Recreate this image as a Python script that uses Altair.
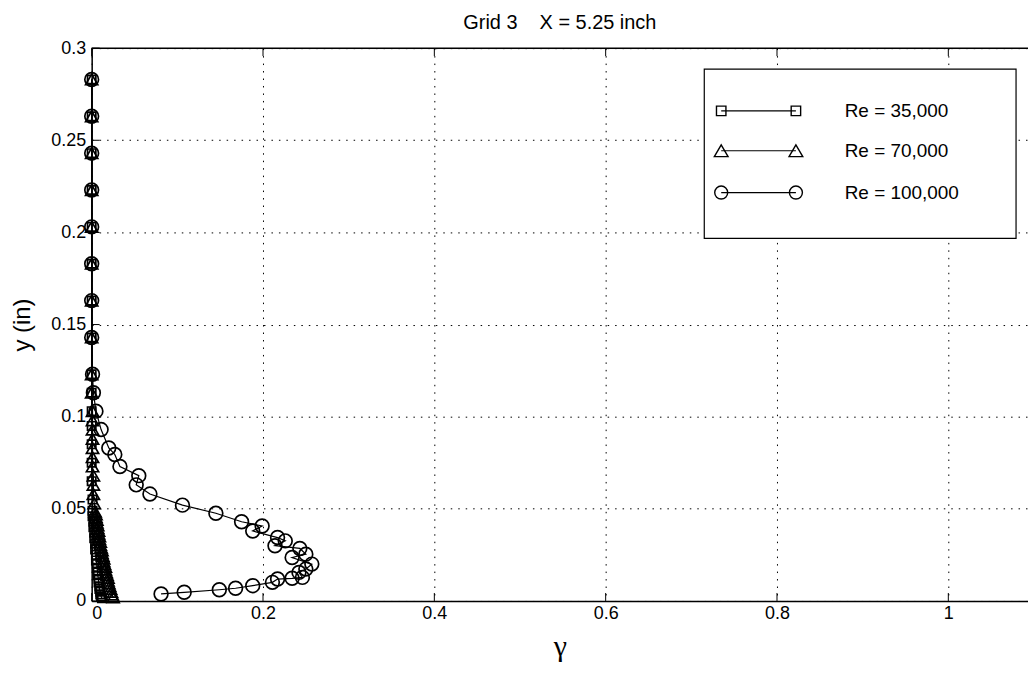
import altair as alt
import pandas as pd

# ---------------- data ----------------
series_names = ["Re = 35,000", "Re = 70,000", "Re = 100,000"]
series_shapes = ["square", "triangle-up", "circle"]
series_sizes = [70, 150, 190]

top_y = [0.283, 0.263, 0.243, 0.223, 0.203, 0.183, 0.163, 0.143, 0.123, 0.113, 0.103]

sq_gamma = [0.000, 0.000, 0.000, 0.000, 0.000, 0.000, 0.000, 0.000, 0.000, 0.000, 0.000,
            0.000, 0.000, 0.000, 0.000, 0.001, 0.001, 0.001, 0.002, 0.002, 0.003, 0.003,
            0.004, 0.004, 0.005, 0.005, 0.006, 0.006, 0.007, 0.007, 0.008, 0.008, 0.009,
            0.009, 0.010, 0.010, 0.011, 0.012]
sq_y = top_y + [0.095, 0.085, 0.075, 0.065, 0.055, 0.049, 0.046, 0.043, 0.040, 0.037,
                0.034, 0.031, 0.028, 0.025, 0.022, 0.020, 0.018, 0.016, 0.014, 0.012,
                0.010, 0.008, 0.0065, 0.005, 0.0035, 0.0025, 0.0015]

tri_gamma = [0.000, 0.000, 0.000, 0.000, 0.000, 0.000, 0.000, 0.000, 0.000, 0.000, 0.001,
             0.001, 0.001, 0.001, 0.001, 0.001, 0.001, 0.002, 0.002, 0.002, 0.003,
             0.004, 0.005, 0.005, 0.006, 0.006, 0.007, 0.007, 0.008, 0.008, 0.009, 0.009,
             0.010, 0.010, 0.011, 0.012, 0.012, 0.013, 0.014, 0.014, 0.015, 0.016, 0.016,
             0.017, 0.018, 0.019, 0.019, 0.020, 0.021, 0.022, 0.023, 0.024, 0.025]
tri_y = top_y + [0.098, 0.093, 0.088, 0.083, 0.078, 0.073, 0.068, 0.063, 0.058, 0.053,
                 0.0485, 0.047, 0.0455, 0.044, 0.0425, 0.041, 0.0395, 0.038, 0.0365, 0.035,
                 0.0335, 0.032, 0.0305, 0.029, 0.0275, 0.026, 0.0245, 0.023, 0.0215, 0.020,
                 0.0185, 0.017, 0.0155, 0.014, 0.0125, 0.011, 0.0095, 0.008, 0.0065, 0.005,
                 0.0035, 0.002]

cir_gamma = [0.000, 0.000, 0.000, 0.000, 0.000, 0.000, 0.000, 0.000, 0.001, 0.002, 0.005,
             0.011, 0.020, 0.027, 0.033, 0.055, 0.052, 0.068, 0.106, 0.145, 0.175, 0.199,
             0.188, 0.217, 0.226, 0.214, 0.243, 0.250, 0.234, 0.257, 0.250, 0.242, 0.246,
             0.234, 0.217, 0.211, 0.188, 0.168, 0.149, 0.108, 0.081]
cir_y = top_y + [0.093, 0.083, 0.0795, 0.073, 0.068, 0.063, 0.058, 0.052, 0.0476, 0.043,
                 0.0407, 0.038, 0.0344, 0.0326, 0.030, 0.0285, 0.0254, 0.0236, 0.020,
                 0.0173, 0.0155, 0.0128, 0.0123, 0.0119, 0.0101, 0.0083, 0.0069, 0.0061,
                 0.0047, 0.0038]

x_ticks = [0, 0.2, 0.4, 0.6, 0.8, 1.0]
y_ticks = [0, 0.05, 0.1, 0.15, 0.2, 0.25, 0.3]

# ---------------- layout ----------------
W, H = 940, 555
XMAX = W / 860.0
FONT = "Liberation Sans"
XT, YT = "γ", "y (in)"

rows = []
for name, gs, ys in zip(series_names, [sq_gamma, tri_gamma, cir_gamma], [sq_y, tri_y, cir_y]):
    for i, (g, y) in enumerate(zip(gs, ys)):
        rows.append({"gamma": g, "y": y, "series": name, "order": i})
df = pd.DataFrame(rows)

x_scale = alt.Scale(domain=[0, XMAX], nice=False, zero=False)
y_scale = alt.Scale(domain=[0, 0.3], nice=False, zero=False)

x_axis = alt.Axis(values=x_ticks, format="~g", labelPadding=4, titlePadding=9,
                  titleFont="Liberation Serif", titleFontSize=30)
y_axis = alt.Axis(values=y_ticks, format="~g", labelPadding=6, titlePadding=16,
                  titleFont=FONT, titleFontSize=24)

lines = alt.Chart(df).mark_line(color="black", strokeWidth=1.2).encode(
    x=alt.X("gamma:Q", scale=x_scale, axis=x_axis, title=XT),
    y=alt.Y("y:Q", scale=y_scale, axis=y_axis, title=YT),
    detail="series:N",
    order="order:Q",
)

layers = [lines]
for name, shp, sz in zip(series_names, series_shapes, series_sizes):
    layers.append(
        alt.Chart(df[df.series == name]).mark_point(
            shape=shp, size=sz, filled=False, color="black", strokeWidth=1.7, opacity=1
        ).encode(
            x=alt.X("gamma:Q", scale=x_scale, axis=x_axis, title=XT),
            y=alt.Y("y:Q", scale=y_scale, axis=y_axis, title=YT),
        )
    )

xt = pd.DataFrame({"t": x_ticks})
yt = pd.DataFrame({"t": y_ticks})
layers.append(alt.Chart(xt).mark_rule(color="black", strokeWidth=1).encode(
    x=alt.X("t:Q", scale=x_scale, axis=x_axis, title=XT), y=alt.value(H), y2=alt.value(H - 8)))
layers.append(alt.Chart(xt).mark_rule(color="black", strokeWidth=1).encode(
    x=alt.X("t:Q", scale=x_scale, axis=x_axis, title=XT), y=alt.value(0), y2=alt.value(8)))
layers.append(alt.Chart(yt).mark_rule(color="black", strokeWidth=1).encode(
    y=alt.Y("t:Q", scale=y_scale, axis=y_axis, title=YT), x=alt.value(0), x2=alt.value(8)))
# top frame line
one = pd.DataFrame({"a": [0]})
layers.append(alt.Chart(one).mark_rule(color="black", strokeWidth=1.5).encode(
    x=alt.value(0), x2=alt.value(W), y=alt.value(0)))

# ---------------- legend box ----------------
LX0, LX1, LY0, LY1 = 615, 928, 21, 191
layers.append(alt.Chart(one).mark_rect(fill="white", stroke="black", strokeWidth=1.2).encode(
    x=alt.value(LX0), x2=alt.value(LX1), y=alt.value(LY0), y2=alt.value(LY1)))
row_y = [63, 103, 145]
legend_sizes = [90, 190, 170]
for name, shp, sz, ry in zip(series_names, series_shapes, legend_sizes, row_y):
    layers.append(alt.Chart(one).mark_rule(color="black", strokeWidth=1.2).encode(
        x=alt.value(632), x2=alt.value(707), y=alt.value(ry)))
    for px in (632, 707):
        layers.append(alt.Chart(one).mark_point(
            shape=shp, size=sz, filled=False, color="black", strokeWidth=1.4, opacity=1
        ).encode(x=alt.value(px), y=alt.value(ry)))
    layers.append(alt.Chart(one).mark_text(
        align="left", baseline="middle", font=FONT, fontSize=19, color="black"
    ).encode(x=alt.value(756), y=alt.value(ry), text=alt.value(name)))

chart = alt.layer(*layers).properties(
    width=W, height=H,
    title=alt.TitleParams(text="Grid 3\u00a0\u00a0\u00a0\u00a0X = 5.25 inch", font=FONT,
                          fontSize=20, fontWeight="normal", color="black",
                          anchor="middle", offset=6),
    autosize=alt.AutoSizeParams(type="none"),
    padding={"left": 84, "top": 39, "right": 0, "bottom": 63},
).configure_view(stroke=None).configure(background="white").configure_axis(
    grid=True, gridColor="black", gridDash=[1.5, 6], gridWidth=1, gridOpacity=1,
    domainColor="black", domainWidth=1.5, ticks=False,
    labelFont=FONT, labelFontSize=18, labelColor="black",
    titleFontWeight="normal", titleColor="black",
)

chart.save("out.html", embed_options={"renderer": "svg", "actions": False})
